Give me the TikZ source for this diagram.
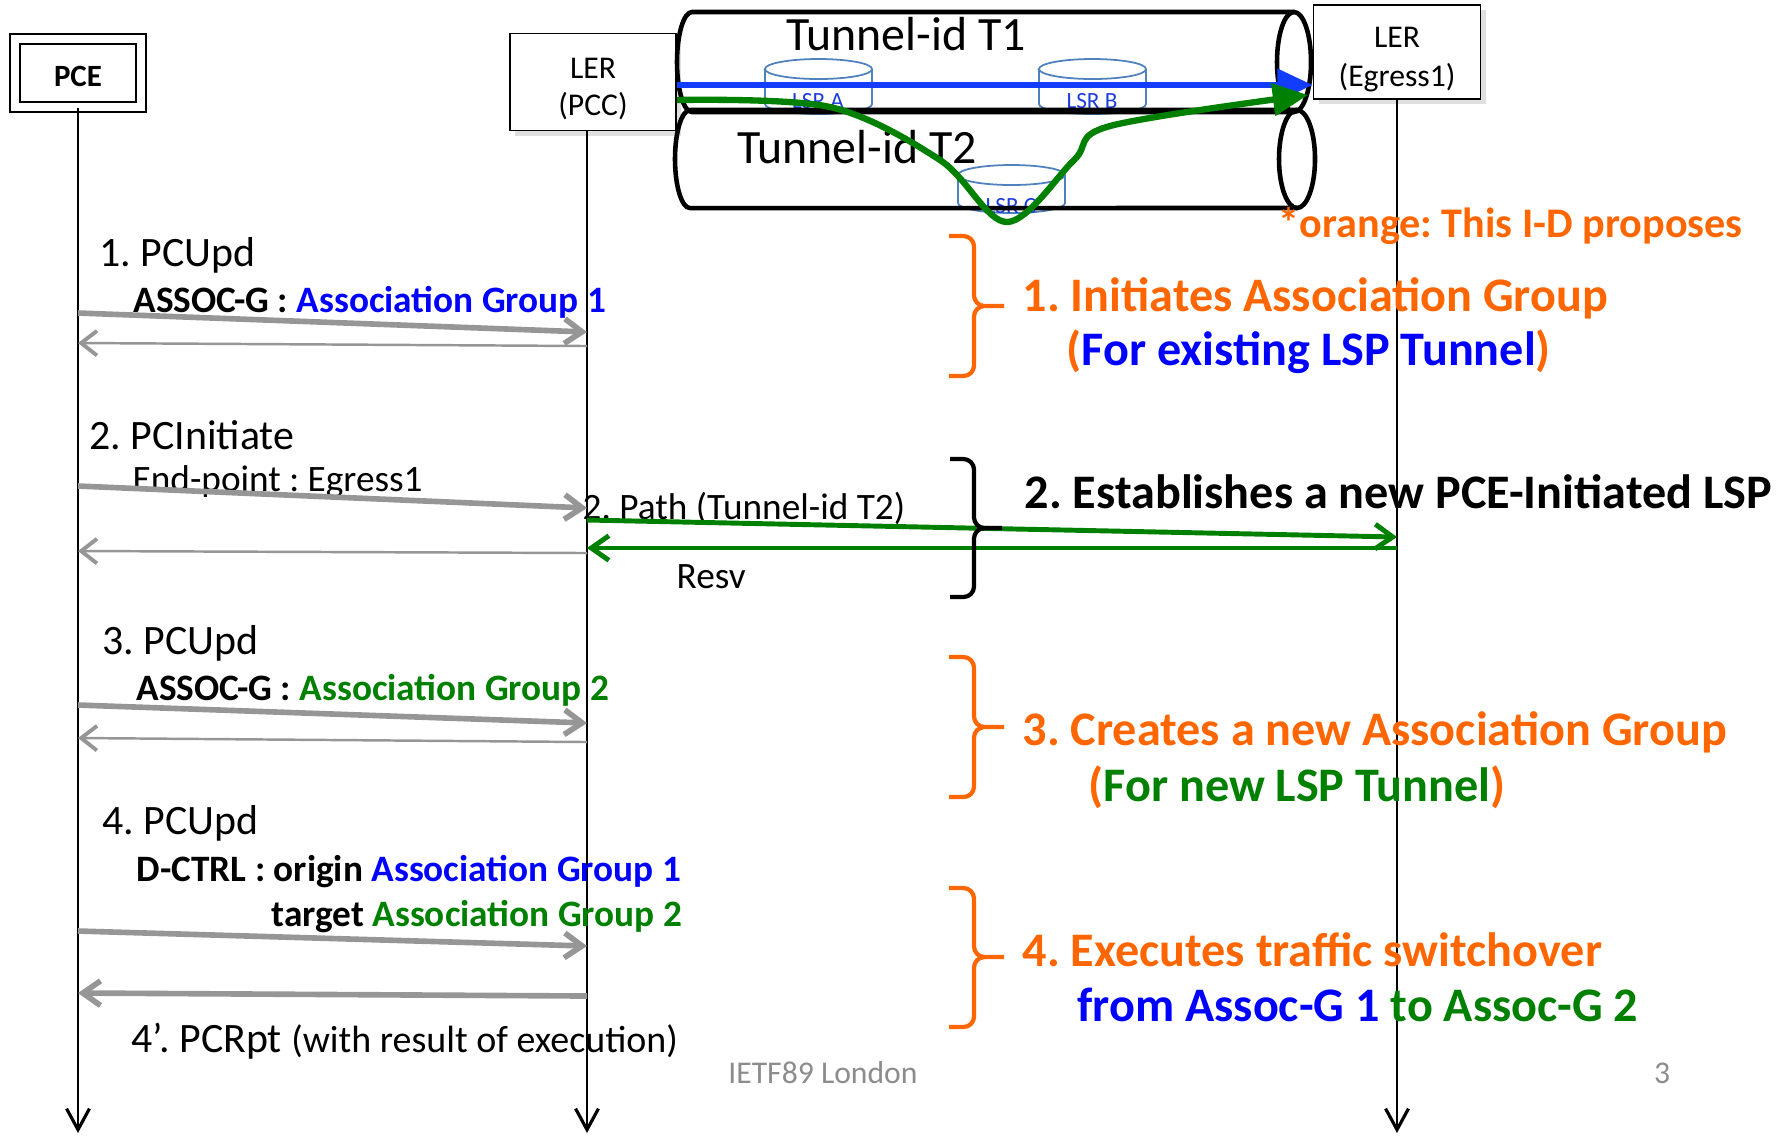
\documentclass[tikz,border=0pt]{standalone}
\usepackage{fontspec}
\setmainfont{Carlito}
\usepackage{xcolor}
\usetikzlibrary{arrows.meta,positioning,shadows}
\frenchspacing

\definecolor{orng}{RGB}{255,102,0}
\definecolor{grn}{RGB}{0,128,0}
\definecolor{blu}{RGB}{0,0,255}
\definecolor{tblue}{RGB}{20,60,255}
\definecolor{msggray}{RGB}{150,150,150}
\definecolor{lsrline}{RGB}{79,129,189}
\definecolor{lsrtext}{RGB}{30,60,220}
\definecolor{footgray}{RGB}{140,140,140}

\begin{document}
\begin{tikzpicture}[
  x=0.01cm, y=-0.01cm,
  box/.style={draw, line width=0.5pt, fill=white, align=center, inner sep=2pt,
    font=\fontsize{9}{11}\selectfont,
    drop shadow={shadow xshift=1.5pt, shadow yshift=-1.5pt, opacity=0.25}},
  pcebox/.style={box, double, double distance=2.4pt, font=\bfseries\fontsize{8.8}{10}\selectfont},
  life/.style={line width=0.45pt, -{Straight Barb[length=6pt,width=6.5pt,line width=0.9pt]}},
  req/.style={msggray, line width=1.6pt, -{Straight Barb[length=5pt,width=7pt]}},
  ack/.style={msggray, line width=0.7pt, -{Straight Barb[length=4.5pt,width=7pt,line width=1.1pt]}},
  rsvp/.style={grn, line width=1.4pt, -{Straight Barb[length=5pt,width=7pt]}},
  tunnel/.style={line width=1.3pt},
  t1path/.style={tblue, line width=1.5pt, -{Triangle[length=10pt,width=9pt]}},
  t2path/.style={grn, line width=1.8pt, -{Triangle[length=10pt,width=9pt]}},
  lsr/.style={draw=lsrline, line width=0.5pt, fill=white},
  lsrlbl/.style={text=lsrtext, font=\fontsize{6.6}{7}\selectfont, inner sep=0pt},
  tunlbl/.style={inner sep=0pt, font=\fontsize{13.6}{15}\selectfont},
  hdr/.style={anchor=west, inner sep=0pt, font=\fontsize{11.9}{13}\selectfont},
  sub/.style={anchor=west, inner sep=0pt, font=\bfseries\fontsize{10.6}{12}\selectfont},
  plain/.style={sub, font=\fontsize{10.6}{12}\selectfont},
  big/.style={anchor=west, inner sep=0pt, font=\bfseries\fontsize{13.7}{15}\selectfont},
  brc/.style={line width=1.2pt, rounded corners=3pt},
  foot/.style={inner sep=0pt, text=footgray, font=\fontsize{9}{10}\selectfont}
]
\useasboundingbox (0,0) rectangle (1789,1135);

% entities
\node[pcebox, minimum width=1.26cm, minimum height=0.68cm, text height=8pt] (pce) at (78,73) {PCE};
\node[box, minimum width=1.66cm, minimum height=0.97cm, font=\fontsize{9}{10.5}\selectfont, text height=20.5pt] (ler) at (593,82) {LER\\(PCC)};
\node[box, minimum width=1.67cm, minimum height=0.91cm, text height=21.2pt] (egr) at (1397,52) {LER\\(Egress1)};

\coordinate (pcel) at (pce.south);
\coordinate (lerl) at (587,131);
\coordinate (egrl) at (egr.south);

\draw[life] (pcel) -- (pcel |- 0,1133);
\draw[life] (lerl) -- (lerl |- 0,1133);
\draw[life] (egrl) -- (egrl |- 0,1133);

% LSRs
\filldraw[lsr] (765,69) -- (765,104) arc[start angle=180, end angle=360, x radius=0.535cm, y radius=0.1cm]
  -- (872,69) arc[start angle=0, end angle=180, x radius=0.535cm, y radius=0.1cm] -- cycle;
\draw[lsr] (765,69) arc[start angle=180, end angle=360, x radius=0.535cm, y radius=0.1cm];
\node[lsrlbl] (lsra) at (818,101) {LSR A};
\filldraw[lsr] (1039,69) -- (1039,104) arc[start angle=180, end angle=360, x radius=0.535cm, y radius=0.1cm]
  -- (1146,69) arc[start angle=0, end angle=180, x radius=0.535cm, y radius=0.1cm] -- cycle;
\draw[lsr] (1039,69) arc[start angle=180, end angle=360, x radius=0.535cm, y radius=0.1cm];
\node[lsrlbl] (lsrb) at (1092,101) {LSR B};
\filldraw[lsr] (958,175) -- (958,203) arc[start angle=180, end angle=360, x radius=0.535cm, y radius=0.1cm]
  -- (1065,175) arc[start angle=0, end angle=180, x radius=0.535cm, y radius=0.1cm] -- cycle;
\draw[lsr] (958,175) arc[start angle=180, end angle=360, x radius=0.535cm, y radius=0.1cm];
\node[lsrlbl] (lsrc) at (1011,206) {LSR C};

% tunnels
\draw[tunnel] (1294,12) -- (692,12) arc[start angle=90, end angle=270, x radius=0.15cm, y radius=0.5cm] -- (1294,112);
\draw[tunnel] (1294,62) ellipse[x radius=0.17cm, y radius=0.5cm];
\draw[tunnel] (1297,110) -- (690,110) arc[start angle=90, end angle=270, x radius=0.15cm, y radius=0.49cm] -- (1297,208);
\draw[tunnel] (1297,159) ellipse[x radius=0.18cm, y radius=0.49cm];
\node[tunlbl] (tun1) at (906,34) {Tunnel-id T1};
\node[tunlbl] (tun2) at (857,147) {Tunnel-id T2};

\draw[t1path] (ler.east |- 0,85) -- (egr.west |- 0,85);
\draw[t2path] plot[smooth, tension=0.55] coordinates {(677,100) (830,107) (940,160) (1007,222) (1074,160) (1110,126) (1308,95)};

% messages
\node[hdr] (upd1) at (99,255) {1. PCUpd};
\node[sub] (assoc1) at (133,302) {ASSOC-G : \textcolor{blu}{Association Group 1}};
\draw[req] (pcel |- 0,313) -- (lerl |- 0,332);
\draw[ack] (lerl |- 0,346) -- (pcel |- 0,343);

\node[hdr] (init2) at (89,435) {2. PCInitiate};
\node[plain] (endpt) at (132,482) {End-point : Egress1};
\draw[req] (pcel |- 0,486) -- (lerl |- 0,508);
\draw[ack] (lerl |- 0,553) -- (pcel |- 0,551);
\node[plain] (path2) at (582,508) {2. Path (Tunnel-id T2)};
\node[plain] (resv) at (676,577) {Resv};
\draw[rsvp] (lerl |- 0,520) -- (egrl |- 0,537);
\draw[rsvp] (egrl |- 0,548) -- (lerl |- 0,548);

\node[hdr] (upd3) at (102,643) {3. PCUpd};
\node[sub] (assoc3) at (136,690) {ASSOC-G : \textcolor{grn}{Association Group 2}};
\draw[req] (pcel |- 0,705) -- (lerl |- 0,723);
\draw[ack] (lerl |- 0,742) -- (pcel |- 0,738);

\node[hdr] (upd4) at (102,823) {4. PCUpd};
\node[sub] (dctrl) at (136,872) {D-CTRL : origin \textcolor{blu}{Association Group 1}};
\node[sub] (target) at (271,917) {target \textcolor{grn}{Association Group 2}};
\draw[req] (pcel |- 0,931) -- (lerl |- 0,946);
\draw[req] (lerl |- 0,996) -- (pcel |- 0,993);
\node[hdr] (rpt4) at (131,1041) {4’. PCRpt {\fontsize{10.8}{12}\selectfont (with result of execution)}};

% right-hand notes
\node[big, text=orng, font=\bfseries\fontsize{12}{14}\selectfont] (note) at (1278,226) {*orange: This I-D proposes};
\draw[brc, orng] (949,236) -| (974,306) -- (1004,306) (1004,306) -| (974,376) -- (949,376);
\node[big, text=orng] (step1) at (1022,298) {1. Initiates Association Group};
\node[big] (step1b) at (1066,352) {\textcolor{orng}{(}\textcolor{blu}{For existing LSP Tunnel}\textcolor{orng}{)}};

\draw[brc] (950,459) -| (974,528) -- (1002,528) (1002,528) -| (974,597) -- (950,597);
\node[big] (step2) at (1024,492) {2. Establishes a new PCE-Initiated LSP};

\draw[brc, orng] (949,657) -| (974,727) -- (1004,727) (1004,727) -| (974,797) -- (949,797);
\node[big, text=orng] (step3) at (1022,732) {3. Creates a new Association Group};
\node[big] (step3b) at (1088,787) {\textcolor{orng}{(}\textcolor{grn}{For new LSP Tunnel}\textcolor{orng}{)}};

\draw[brc, orng] (949,888) -| (974,957) -- (1004,957) (1004,957) -| (974,1027) -- (949,1027);
\node[big, text=orng] (step4) at (1022,950) {4. Executes traffic switchover};
\node[big] (step4b) at (1077,1005) {\textcolor{blu}{from Assoc-G 1} \textcolor{grn}{to Assoc-G 2}};

\node[foot] (venue) at (823,1073) {IETF89 London};
\node[foot] (pageno) at (1662,1073) {3};
\end{tikzpicture}
\end{document}
